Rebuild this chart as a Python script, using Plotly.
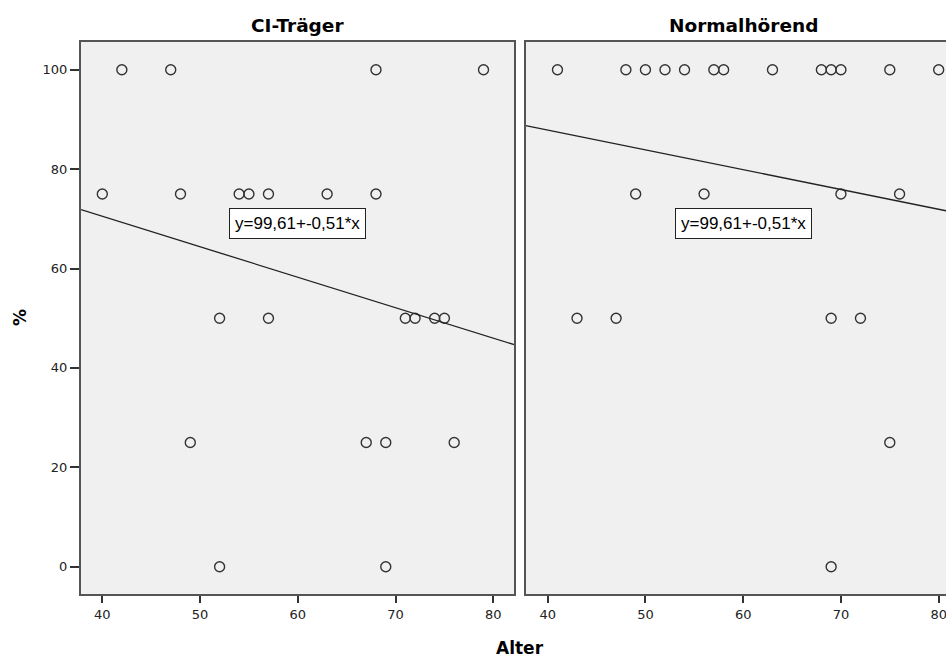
import numpy as np
import plotly.graph_objects as go

# ---- data ----
ci_age = [42, 47, 68, 79, 40, 48, 54, 55, 57, 63, 68, 52, 57, 71, 72, 74, 75, 49, 67, 69, 76, 52, 69]
ci_pct = [100, 100, 100, 100, 75, 75, 75, 75, 75, 75, 75, 50, 50, 50, 50, 50, 50, 25, 25, 25, 25, 0, 0]

nh_age = [41, 48, 50, 52, 54, 57, 58, 63, 68, 69, 70, 75, 80, 49, 56, 70, 76, 43, 47, 69, 72, 75, 69]
nh_pct = [100, 100, 100, 100, 100, 100, 100, 100, 100, 100, 100, 100, 100, 75, 75, 75, 75, 50, 50, 50, 50, 25, 0]

panel_titles = ["CI-Träger", "Normalhörend"]
equation_text = "y=99,61+-0,51*x"
x_ticks = [40, 50, 60, 70, 80]
y_ticks = [0, 20, 40, 60, 80, 100]

# ---- layout constants ----
W, H = 946, 661
left_x_range = [37.82, 82.15]
right_x_range = [37.75, 80.75]
y_range = [-5.55, 105.57]
dom_y = [1 - 594.3 / H, 1 - 42 / H]
dom_x1 = [81 / W, 514.3 / W]
dom_x2 = [525.7 / W, 1.0]

ink = "#333333"
frame = "#555555"
bg = "#f0f0f0"
tick_font = dict(family="DejaVu Sans", size=13, color="#222222")
title_font = dict(family="DejaVu Sans", size=18.5, color="#000000")
axis_title_font = dict(family="DejaVu Sans", size=17, color="#000000")

fig = go.Figure()

marker = dict(symbol="circle-open", size=10, color=ink, line=dict(width=1.4, color=ink))

for ages, pcts, xa, ya, xr in [
    (ci_age, ci_pct, "x", "y", left_x_range),
    (nh_age, nh_pct, "x2", "y2", right_x_range),
]:
    fig.add_trace(go.Scatter(x=ages, y=pcts, mode="markers", marker=marker,
                             xaxis=xa, yaxis=ya, hoverinfo="x+y"))
    slope, intercept = np.polyfit(np.array(ages, float), np.array(pcts, float), 1)
    xs = np.array(xr)
    fig.add_trace(go.Scatter(x=xs, y=intercept + slope * xs, mode="lines",
                             line=dict(color="#222222", width=1.3),
                             xaxis=xa, yaxis=ya, hoverinfo="skip"))

axis_common = dict(showgrid=False, zeroline=False, showline=True, linecolor=frame, linewidth=2,
                   ticks="outside", tickcolor=ink, tickwidth=1.5, tickfont=tick_font,
                   ticklabeloverflow="allow")

fig.update_layout(
    width=W, height=H,
    margin=dict(l=0, r=0, t=0, b=0),
    paper_bgcolor="white",
    plot_bgcolor=bg,
    showlegend=False,
    xaxis=dict(domain=dom_x1, range=left_x_range, anchor="y", tickvals=x_ticks,
               ticklen=7, mirror=True, **axis_common),
    yaxis=dict(domain=dom_y, range=y_range, anchor="x", tickvals=y_ticks,
               ticklen=9, mirror=True, **axis_common),
    xaxis2=dict(domain=dom_x2, range=right_x_range, anchor="y2", tickvals=x_ticks,
                ticklen=7, mirror=True, **axis_common),
    yaxis2=dict(domain=dom_y, range=y_range, anchor="x2", showgrid=False, zeroline=False,
                showline=True, linecolor=frame, linewidth=2, ticks="", showticklabels=False),
)

annotations = []
for t, xr in [(panel_titles[0], "x"), (panel_titles[1], "x2")]:
    annotations.append(dict(text="<b>%s</b>" % t, x=60, xref=xr, y=1 - 25 / H, yref="paper",
                            showarrow=False, font=title_font, xanchor="center", yanchor="middle"))
for xr, yr in [("x", "y"), ("x2", "y2")]:
    annotations.append(dict(text=equation_text, x=60, xref=xr, y=69, yref=yr, showarrow=False,
                            font=dict(family="Liberation Sans", size=17, color="#000000"),
                            bgcolor="white", bordercolor="#222222", borderwidth=1, borderpad=5,
                            xanchor="center", yanchor="middle"))
annotations.append(dict(text="<b>%</b>", x=20 / W, xref="paper", y=1 - 318 / H, yref="paper",
                        showarrow=False, textangle=-90, font=axis_title_font,
                        xanchor="center", yanchor="middle"))
annotations.append(dict(text="<b>Alter</b>", x=520 / W, xref="paper", y=1 - 648 / H, yref="paper",
                        showarrow=False, font=axis_title_font, xanchor="center", yanchor="middle"))
fig.update_layout(annotations=annotations)

fig.write_html("out.html", config={"displayModeBar": False},
               post_script="document.body.style.margin='0';document.body.style.overflow='hidden';")
